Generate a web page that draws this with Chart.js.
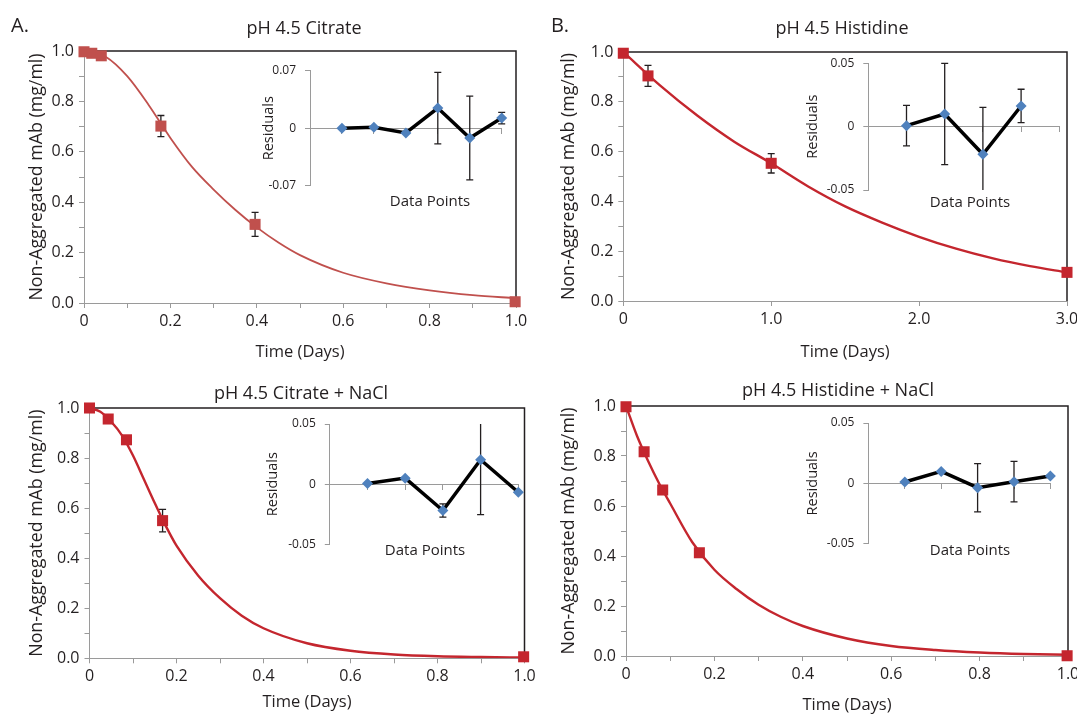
<!DOCTYPE html>
<html>
<head>
<meta charset="utf-8">
<script src="https://cdn.jsdelivr.net/npm/chart.js@4.4.1/dist/chart.umd.min.js"></script>
<style>
  body { margin: 0; background: #fff; }
  #fig { position: relative; width: 1077px; height: 715px; overflow: hidden; font-family: 'Open Sans', sans-serif; color: #231f20; }
  #fig canvas { position: absolute; }
  .lbl { position: absolute; white-space: nowrap; line-height: 1; transform: translate(-50%, -50%); }
</style>
</head>
<body>
<div id="fig">
  <canvas id="mainA" width="540" height="362" style="left:0;top:0"></canvas>
  <canvas id="mainB" width="537" height="362" style="left:540px;top:0"></canvas>
  <canvas id="mainC" width="540" height="353" style="left:0;top:362px"></canvas>
  <canvas id="mainD" width="537" height="353" style="left:540px;top:362px"></canvas>
  <canvas id="insetA" width="275" height="140" style="left:240px;top:55px"></canvas>
  <canvas id="insetB" width="282" height="152" style="left:790px;top:48px"></canvas>
  <canvas id="insetC" width="280" height="146" style="left:255px;top:408px"></canvas>
  <canvas id="insetD" width="282" height="146" style="left:790px;top:408px"></canvas>

  <div class="lbl" style="left:20px;top:25px;font-size:20px">A.</div>
  <div class="lbl" style="left:560px;top:25px;font-size:20px">B.</div>
  <div class="lbl" style="left:304px;top:27px;font-size:18px">pH 4.5 Citrate</div>
  <div class="lbl" style="left:842px;top:27px;font-size:18px">pH 4.5 Histidine</div>
  <div class="lbl" style="left:301px;top:392px;font-size:18px">pH 4.5 Citrate + NaCl</div>
  <div class="lbl" style="left:838px;top:389px;font-size:18px">pH 4.5 Histidine + NaCl</div>
  <div class="lbl" style="left:430px;top:200px;font-size:15px">Data Points</div>
  <div class="lbl" style="left:970px;top:201px;font-size:15px">Data Points</div>
  <div class="lbl" style="left:425px;top:549px;font-size:15px">Data Points</div>
  <div class="lbl" style="left:970px;top:549px;font-size:15px">Data Points</div>
</div>
<script>
// A: pH 4.5 Citrate
const citrateDays = [0, 0.018, 0.04, 0.178, 0.396, 0.998];
const citrateConc = [0.997, 0.991, 0.981, 0.702, 0.312, 0.005];
const citrateSd = [0, 0, 0, 0.042, 0.048, 0];
const citrateFitDays = [0, 0.05, 0.1, 0.15, 0.2, 0.25, 0.3, 0.35, 0.4, 0.45, 0.5, 0.6, 0.7, 0.8, 0.9, 1.0];
const citrateFitConc = [1.0, 0.977, 0.9, 0.785, 0.655, 0.54, 0.45, 0.37, 0.30, 0.24, 0.19, 0.12, 0.078, 0.05, 0.031, 0.019];
const citrateResid = [0, 0.0012, -0.0057, 0.0245, -0.0119, 0.0123];
const citrateResidSd = [0, 0, 0, 0.0435, 0.051, 0.007];

// B: pH 4.5 Histidine
const histDays = [0, 0.167, 1.0, 3.0];
const histConc = [0.995, 0.904, 0.553, 0.115];
const histSd = [0, 0.042, 0.039, 0];
const histFitDays = [0, 0.25, 0.5, 0.75, 1.0, 1.25, 1.5, 1.75, 2.0, 2.25, 2.5, 2.75, 3.0];
const histFitConc = [1.0, 0.865, 0.745, 0.64, 0.553, 0.46, 0.38, 0.315, 0.258, 0.21, 0.171, 0.14, 0.115];
const histResid = [0.0008, 0.01, -0.0218, 0.0163];
const histResidSd = [0.016, 0.040, 0.037, 0.0132];

// C: pH 4.5 Citrate + NaCl
const citNaclDays = [0, 0.043, 0.085, 0.168, 0.998];
const citNaclConc = [1.0, 0.956, 0.873, 0.55, 0.006];
const citNaclSd = [0, 0, 0, 0.045, 0];
const citNaclFitDays = [0, 0.025, 0.05, 0.075, 0.1, 0.125, 0.15, 0.175, 0.2, 0.25, 0.3, 0.35, 0.4, 0.5, 0.6, 0.7, 0.8, 0.9, 1.0];
const citNaclFitConc = [1.0, 0.985, 0.945, 0.89, 0.81, 0.715, 0.62, 0.53, 0.45, 0.33, 0.24, 0.17, 0.12, 0.06, 0.03, 0.015, 0.008, 0.005, 0.003];
const citNaclResid = [0.0006, 0.005, -0.0219, 0.0203, -0.0067];
const citNaclResidSd = [0, 0, 0.0055, 0.0456, 0];

// D: pH 4.5 Histidine + NaCl
const histNaclDays = [0, 0.041, 0.083, 0.166, 0.998];
const histNaclConc = [0.997, 0.817, 0.664, 0.413, 0.001];
const histNaclSd = [0, 0, 0, 0, 0];
const histNaclFitDays = [0, 0.025, 0.05, 0.075, 0.1, 0.15, 0.2, 0.25, 0.3, 0.35, 0.4, 0.5, 0.6, 0.7, 0.8, 0.9, 1.0];
const histNaclFitConc = [1.0, 0.88, 0.78, 0.69, 0.61, 0.455, 0.345, 0.268, 0.205, 0.157, 0.12, 0.07, 0.04, 0.024, 0.014, 0.008, 0.005];
const histNaclResid = [0.0011, 0.0099, -0.0036, 0.0014, 0.0061];
const histNaclResidSd = [0, 0, 0.020, 0.0168, 0];

const axisGray = '#9a9a9a';
const textDark = '#231f20';
Chart.defaults.font.family = "'Open Sans', sans-serif";
Chart.defaults.color = textDark;

function toPoints(xs, ys) {
  return xs.map((x, i) => ({ x: x, y: ys[i] }));
}

// vertical error bars, drawn under the markers
const errorBars = {
  id: 'errorBars',
  beforeDatasetsDraw(chart) {
    const ctx = chart.ctx;
    const area = chart.chartArea;
    chart.data.datasets.forEach((ds, i) => {
      if (!ds.errors) return;
      const meta = chart.getDatasetMeta(i);
      const yScale = chart.scales[meta.yAxisID];
      const w = ds.capWidth || 3.5;
      ctx.save();
      ctx.strokeStyle = textDark;
      ctx.lineWidth = 1.3;
      meta.data.forEach((pt, j) => {
        const e = ds.errors[j];
        if (!e) return;
        const v = ds.data[j].y;
        let top = yScale.getPixelForValue(v + e);
        let bot = yScale.getPixelForValue(v - e);
        const capTop = top >= area.top - 0.5;
        const capBot = bot <= area.bottom + 0.5;
        top = Math.max(top, area.top);
        bot = Math.min(bot, area.bottom);
        ctx.beginPath();
        ctx.moveTo(pt.x, top);
        ctx.lineTo(pt.x, bot);
        if (capTop) { ctx.moveTo(pt.x - w, top); ctx.lineTo(pt.x + w, top); }
        if (capBot) { ctx.moveTo(pt.x - w, bot); ctx.lineTo(pt.x + w, bot); }
        ctx.stroke();
      });
      ctx.restore();
    });
  }
};

// dark top and right edges of the main plot box
const frame = {
  id: 'frame',
  beforeDatasetsDraw(chart) {
    const a = chart.chartArea;
    const ctx = chart.ctx;
    ctx.save();
    ctx.strokeStyle = textDark;
    ctx.lineWidth = 1.5;
    ctx.beginPath();
    ctx.moveTo(a.left, a.top);
    ctx.lineTo(a.right, a.top);
    ctx.lineTo(a.right, a.bottom);
    ctx.stroke();
    ctx.restore();
  }
};

function tenths(v) { return Math.round(v * 10); }

function mainChart(id, p) {
  return new Chart(document.getElementById(id), {
    type: 'scatter',
    data: {
      datasets: [
        {
          data: toPoints(p.days, p.conc),
          errors: p.sd,
          pointStyle: 'rect',
          pointRadius: 7.8,
          backgroundColor: p.color,
          borderColor: p.color,
          borderWidth: 0,
          clip: false
        },
        {
          data: toPoints(p.fitDays, p.fitConc),
          showLine: true,
          borderColor: p.color,
          borderWidth: p.lineWidth,
          pointRadius: 0,
          cubicInterpolationMode: 'monotone'
        }
      ]
    },
    options: {
      responsive: false,
      animation: false,
      events: [],
      layout: { padding: { left: 0, top: p.top, right: p.right, bottom: 0 } },
      plugins: { legend: { display: false }, tooltip: { enabled: false } },
      scales: {
        x: {
          type: 'linear', min: 0, max: p.xMax,
          afterFit: s => { s.height = p.xHeight; s.paddingLeft = 0; s.paddingRight = 0; },
          ticks: { stepSize: p.xStep, autoSkip: false, maxRotation: 0, padding: 4, font: { size: 16 }, callback: p.xLabel },
          grid: { drawOnChartArea: false, tickLength: 5, color: axisGray },
          border: { color: axisGray },
          title: { display: true, text: 'Time (Days)', font: { size: 16.5 }, padding: { top: 0, bottom: p.xTitlePad } }
        },
        y: {
          type: 'linear', min: 0, max: 1,
          afterFit: s => { s.width = p.left; s.paddingTop = 0; s.paddingBottom = 0; },
          ticks: {
            stepSize: 0.1, autoSkip: false, padding: 5, font: { size: 16 },
            callback: v => tenths(v) % 2 === 0 ? (tenths(v) / 10).toFixed(1) : ''
          },
          grid: { drawOnChartArea: false, tickLength: 5, color: axisGray },
          border: { color: axisGray },
          title: { display: true, text: 'Non-Aggregated mAb (mg/ml)', font: { size: 17.8 }, padding: { top: p.yTitlePad, bottom: 0 } }
        }
      }
    },
    plugins: [frame, errorBars]
  });
}

function insetChart(id, p) {
  const xs = p.resid.map((r, i) => i + 1);
  const xTicks = xs.slice();
  if (p.xMax > xs.length) xTicks.push(p.xMax);
  return new Chart(document.getElementById(id), {
    type: 'scatter',
    data: {
      datasets: [{
        data: toPoints(xs, p.resid),
        errors: p.sd,
        capWidth: 3.5,
        showLine: true,
        borderColor: '#000',
        borderWidth: 3.5,
        pointStyle: 'rectRot',
        pointRadius: 5.5,
        pointBackgroundColor: '#4f81bd',
        pointBorderColor: '#4f81bd',
        pointBorderWidth: 0,
        clip: false
      }]
    },
    options: {
      responsive: false,
      animation: false,
      events: [],
      layout: { padding: { left: 0, top: p.top, right: p.right, bottom: p.bottom } },
      plugins: { legend: { display: false }, tooltip: { enabled: false } },
      scales: {
        x: {
          type: 'linear', min: 0, max: p.xMax,
          position: { y: 0 },
          afterBuildTicks: s => { s.ticks = xTicks.map(v => ({ value: v })); },
          ticks: { display: false },
          grid: { drawOnChartArea: false, tickLength: 5, color: axisGray },
          border: { color: axisGray }
        },
        y: {
          type: 'linear', min: -p.lim, max: p.lim,
          afterBuildTicks: s => { s.ticks = [-p.lim, 0, p.lim].map(v => ({ value: v })); },
          afterFit: s => { s.width = p.left; s.paddingTop = 0; s.paddingBottom = 0; },
          ticks: { padding: 9, font: { size: 12 }, callback: v => v === 0 ? '0' : v.toFixed(2) },
          grid: { drawOnChartArea: false, tickLength: 5, color: axisGray },
          border: { color: axisGray },
          title: { display: true, text: 'Residuals', font: { size: 14.5 }, padding: { top: p.yTitlePad, bottom: 0 } }
        }
      }
    },
    plugins: [errorBars]
  });
}

const tickLabel1 = v => tenths(v) % 2 === 0 ? (tenths(v) === 0 ? '0' : (tenths(v) / 10).toFixed(1)) : '';
const tickLabel3 = v => v === 0 ? '0' : v.toFixed(1);

mainChart('mainA', {
  days: citrateDays, conc: citrateConc, sd: citrateSd, fitDays: citrateFitDays, fitConc: citrateFitConc,
  color: '#c0504d', lineWidth: 1.8, xMax: 1, xStep: 0.1, xLabel: tickLabel1,
  left: 84, top: 51, right: 24, xHeight: 59, xTitlePad: 0, yTitlePad: 26.5
});
mainChart('mainB', {
  days: histDays, conc: histConc, sd: histSd, fitDays: histFitDays, fitConc: histFitConc,
  color: '#c4262e', lineWidth: 2.4, xMax: 3, xStep: 1, xLabel: tickLabel3,
  left: 83.3, top: 52, right: 10, xHeight: 61, xTitlePad: 0, yTitlePad: 17.8
});
mainChart('mainC', {
  days: citNaclDays, conc: citNaclConc, sd: citNaclSd, fitDays: citNaclFitDays, fitConc: citNaclFitConc,
  color: '#c4262e', lineWidth: 2.4, xMax: 1, xStep: 0.1, xLabel: tickLabel1,
  left: 89.5, top: 46, right: 15.5, xHeight: 56.7, xTitlePad: 2.4, yTitlePad: 26.3
});
mainChart('mainD', {
  days: histNaclDays, conc: histNaclConc, sd: histNaclSd, fitDays: histNaclFitDays, fitConc: histNaclFitConc,
  color: '#c4262e', lineWidth: 2.4, xMax: 1, xStep: 0.1, xLabel: tickLabel1,
  left: 86, top: 44, right: 9, xHeight: 59, xTitlePad: 0, yTitlePad: 18.1
});

insetChart('insetA', { resid: citrateResid, sd: citrateResidSd, lim: 0.07, xMax: 6, left: 70, top: 15.7, right: 13.3, bottom: 9.3, yTitlePad: 20.3 });
insetChart('insetB', { resid: histResid, sd: histResidSd, lim: 0.05, xMax: 5, left: 78.3, top: 15.3, right: 12.7, bottom: 10, yTitlePad: 14.3 });
insetChart('insetC', { resid: citNaclResid, sd: citNaclResidSd, lim: 0.05, xMax: 5, left: 74.8, top: 16, right: 16.7, bottom: 9.7, yTitlePad: 9.5 });
insetChart('insetD', { resid: histNaclResid, sd: histNaclResidSd, lim: 0.05, xMax: 5, left: 78.4, top: 15, right: 21.6, bottom: 10.3, yTitlePad: 14.5 });
</script>
</body>
</html>
